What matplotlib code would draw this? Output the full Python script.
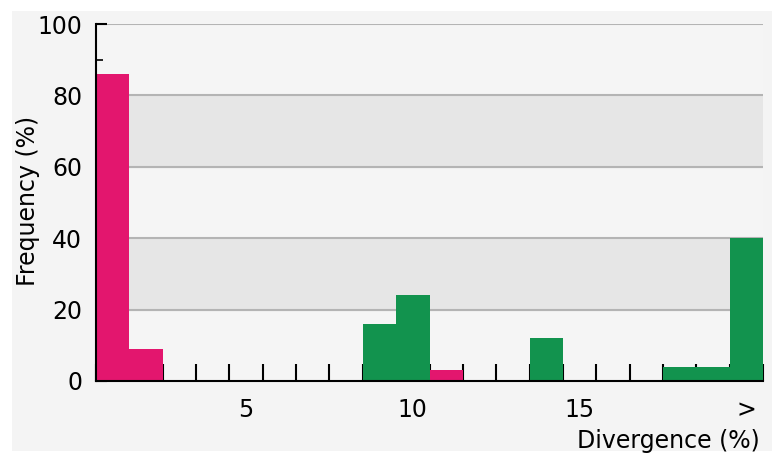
import numpy as np
from matplotlib import pyplot as plt
from matplotlib.patches import Rectangle

# histogram bins (1..20, last one is "> 19")
bins = list(range(1, 21))
pink = [86, 9, 0, 0, 0, 0, 0, 0, 0, 0, 3, 0, 0, 0, 0, 0, 0, 0, 0, 0]
green = [0, 0, 0, 0, 0, 0, 0, 0, 16, 24, 0, 0, 0, 12, 0, 0, 0, 4, 4, 40]
xtick_pos = [5, 10, 15, 20]
xtick_labels = ['5', '10', '15', '>']
ytick_pos = [0, 20, 40, 60, 80, 100]

pink_col = '#e3166e'
green_col = '#12934e'

fig = plt.figure(figsize=(7.77, 4.71), dpi=100, facecolor='white')
fig.patches.append(Rectangle((12 / 777, 20 / 471), 760 / 777, 440 / 471,
                             transform=fig.transFigure, facecolor='#f4f4f4',
                             edgecolor='none', zorder=-10))
ax = fig.add_axes([96 / 777, 1 - 381 / 471, 667 / 777, 357 / 471])
ax.set_facecolor('#f5f5f5')

# alternating bands
for lo in [20, 60]:
    ax.axhspan(lo, lo + 20, color='#e6e6e6', zorder=0)
for y in [20, 40, 60, 80, 100]:
    ax.axhline(y, color='#b4b4b4', lw=1.5, zorder=1)

ax.bar(bins, pink, width=1.0, color=pink_col, zorder=2)
ax.bar(bins, green, width=1.0, color=green_col, zorder=2)

ax.set_xlim(0.5, 20.5)
ax.set_ylim(0, 100)

ax.set_xticks(xtick_pos)
ax.set_xticklabels(xtick_labels, fontsize=17)
ax.set_xticks(np.arange(0.5, 21, 1), minor=True)
ax.tick_params(axis='x', which='major', length=0, pad=12)
ax.tick_params(axis='x', which='minor', direction='in', length=12, width=1.5, color='black')

ax.set_yticks(ytick_pos)
ax.set_yticklabels([str(v) for v in ytick_pos], fontsize=17)
ax.set_yticks(np.arange(10, 100, 20), minor=True)
ax.tick_params(axis='y', which='major', direction='in', length=8, width=1.5, pad=10)
ax.tick_params(axis='y', which='minor', direction='in', length=5, width=1.2)

for s in ['top', 'right']:
    ax.spines[s].set_visible(False)
ax.spines['left'].set_linewidth(1.5)
ax.spines['bottom'].set_linewidth(1.5)
ax.spines['left'].set_zorder(3)
ax.spines['bottom'].set_zorder(3)

fig.text(760 / 777, 1 - 441 / 471, 'Divergence (%)', fontsize=17, ha='right', va='center')
fig.text(28 / 777, 1 - 201 / 471, 'Frequency (%)', fontsize=17, rotation=90, ha='center', va='center')

fig.savefig('out.png', dpi=100, facecolor=fig.get_facecolor())
